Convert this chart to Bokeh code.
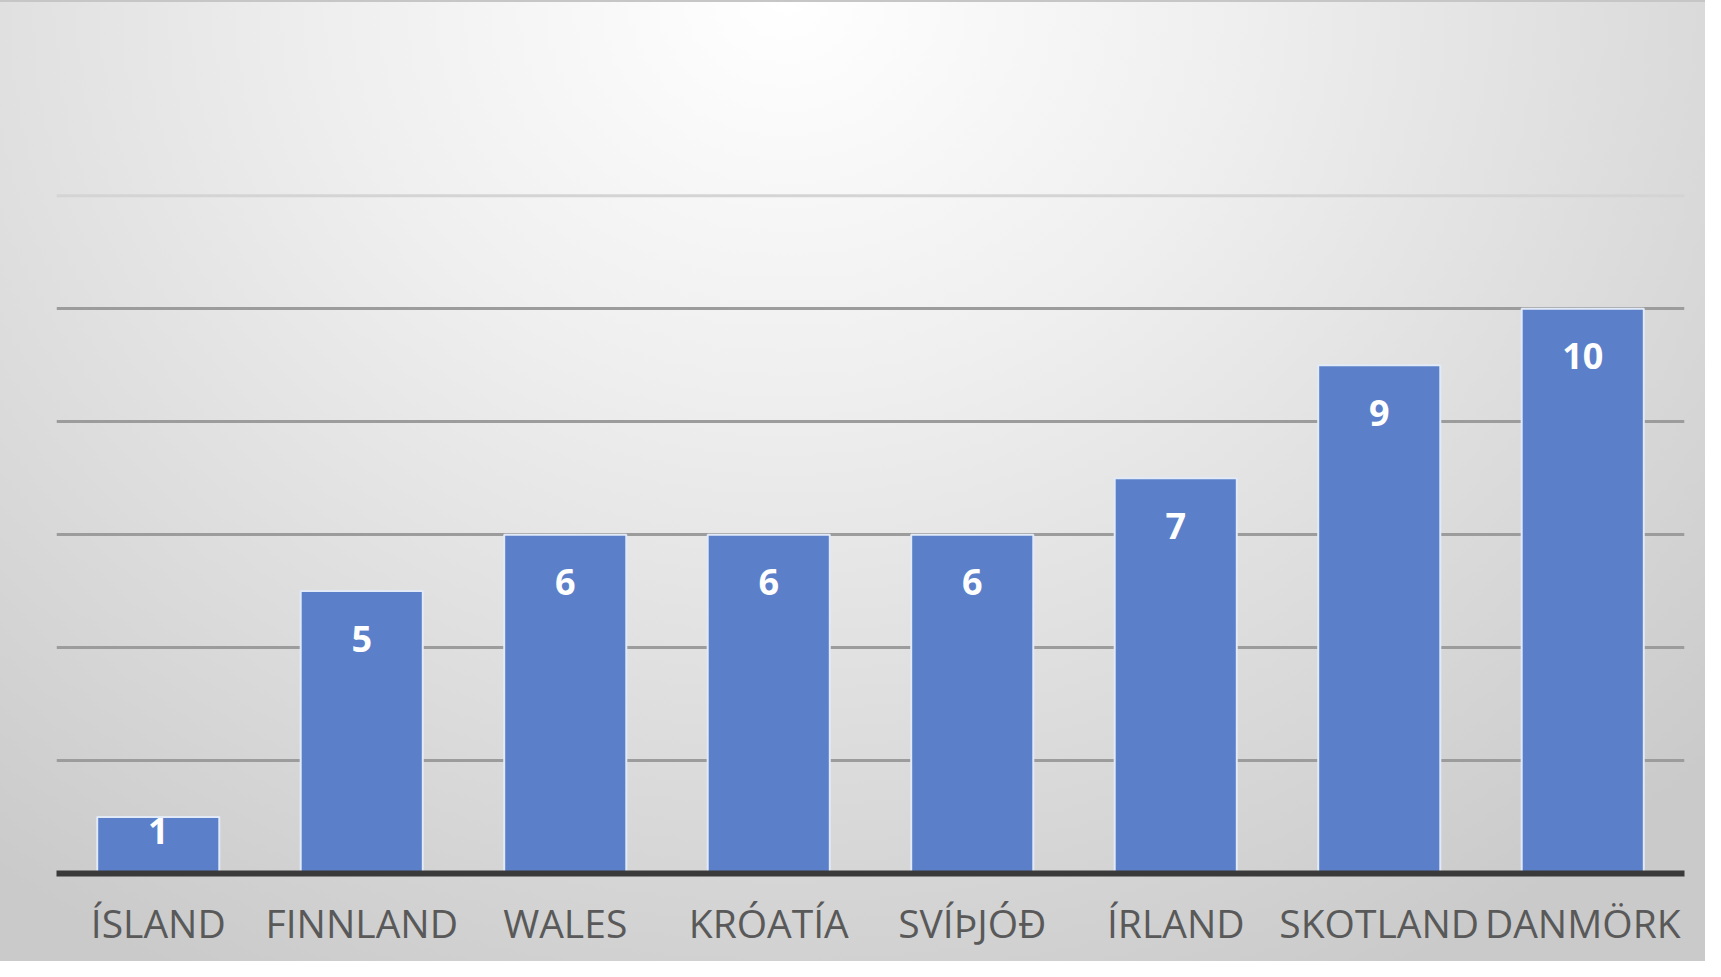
from bokeh.plotting import figure
from bokeh.models import ColumnDataSource, FixedTicker, Span
from bokeh.embed import file_html
from bokeh.resources import INLINE
from bokeh.core.properties import value

countries = ["ÍSLAND", "FINNLAND", "WALES", "KRÓATÍA", "SVÍÞJÓÐ", "ÍRLAND", "SKOTLAND", "DANMÖRK"]
counts = [1, 5, 6, 6, 6, 7, 9, 10]
grid_ticks = [2, 4, 6, 8, 10]
top_grid = 12

label_y = [max(v - 0.84, 0.75) for v in counts]
src = ColumnDataSource(dict(x=countries, top=counts, ly=label_y, txt=[str(v) for v in counts]))

p = figure(x_range=countries, y_range=(0, 12.2), width=1705, height=961,
           output_backend="svg", toolbar_location=None,
           min_border_left=56, min_border_right=21, min_border_top=182, min_border_bottom=90)
p.styles = {"background": "radial-gradient(ellipse 75% 115% at 46% 0%, #ffffff 0%, #efefef 35%, #dadada 72%, #cacaca 100%)",
            "border-top": "2px solid #c6c6c6"}
p.background_fill_alpha = 0
p.border_fill_alpha = 0
p.outline_line_color = None

p.xgrid.grid_line_color = None
p.ygrid.ticker = FixedTicker(ticks=grid_ticks)
p.ygrid.grid_line_color = "#9c9c9c"
p.ygrid.grid_line_width = 3
p.add_layout(Span(location=top_grid, dimension="width", line_color="#d4d4d4", line_width=3, level="underlay"))

p.vbar(x="x", top="top", width=0.6, source=src, fill_color="#5B80C9", line_color="#e2eaf7", line_width=2)
p.text(x="x", y="ly", text="txt", source=src, text_color="white", text_font=value("Open Sans"),
       text_font_style="bold", text_font_size="36px", text_align="center", text_baseline="middle")

p.yaxis.visible = False
xa = p.xaxis[0]
xa.axis_line_width = 6
xa.axis_line_color = "#3a3a3a"
xa.major_tick_line_color = None
xa.minor_tick_line_color = None
xa.major_label_text_font = "Open Sans"
xa.major_label_text_font_size = "39px"
xa.major_label_text_color = "#595959"
xa.major_label_standoff = 16

open("out.html", "w").write(file_html(p, INLINE))
